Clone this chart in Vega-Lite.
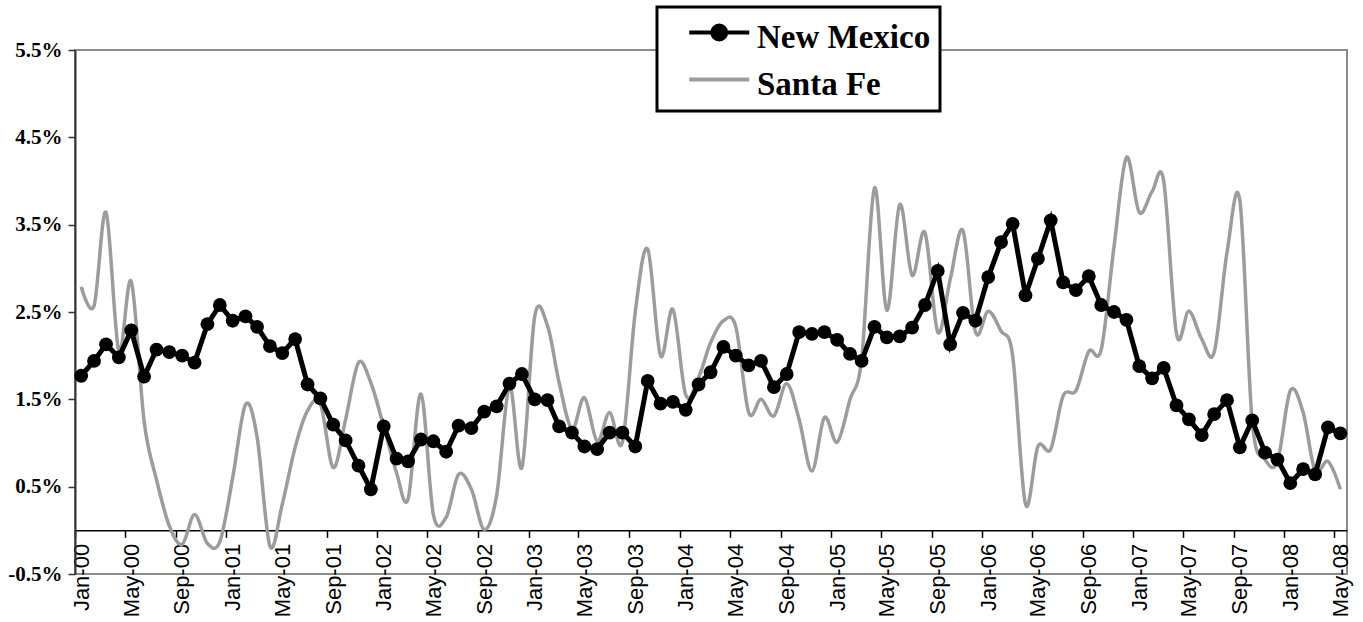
{
  "$schema": "https://vega.github.io/schema/vega-lite/v6.json",
  "width": 1272,
  "height": 524,
  "autosize": {"type": "none"},
  "padding": {"left": 75, "top": 50, "right": 16, "bottom": 48},
  "background": "white",
  "config": {"view": {"stroke": "#8c8c8c", "strokeWidth": 2}, "axis": {"grid": false}},
  "datasets": {
    "nm": [
      {"m":"2000-01-16","s":"New Mexico","v":1.77},{"m":"2000-02-16","s":"New Mexico","v":1.94},{"m":"2000-03-16","s":"New Mexico","v":2.13},{"m":"2000-04-16","s":"New Mexico","v":1.98},{"m":"2000-05-16","s":"New Mexico","v":2.29},{"m":"2000-06-16","s":"New Mexico","v":1.76},{"m":"2000-07-16","s":"New Mexico","v":2.07},{"m":"2000-08-16","s":"New Mexico","v":2.04},{"m":"2000-09-16","s":"New Mexico","v":2.00},{"m":"2000-10-16","s":"New Mexico","v":1.92},{"m":"2000-11-16","s":"New Mexico","v":2.36},{"m":"2000-12-16","s":"New Mexico","v":2.58},
      {"m":"2001-01-16","s":"New Mexico","v":2.40},{"m":"2001-02-16","s":"New Mexico","v":2.45},{"m":"2001-03-16","s":"New Mexico","v":2.33},{"m":"2001-04-16","s":"New Mexico","v":2.11},{"m":"2001-05-16","s":"New Mexico","v":2.03},{"m":"2001-06-16","s":"New Mexico","v":2.19},{"m":"2001-07-16","s":"New Mexico","v":1.67},{"m":"2001-08-16","s":"New Mexico","v":1.51},{"m":"2001-09-16","s":"New Mexico","v":1.21},{"m":"2001-10-16","s":"New Mexico","v":1.03},{"m":"2001-11-16","s":"New Mexico","v":0.74},{"m":"2001-12-16","s":"New Mexico","v":0.47},
      {"m":"2002-01-16","s":"New Mexico","v":1.19},{"m":"2002-02-16","s":"New Mexico","v":0.82},{"m":"2002-03-16","s":"New Mexico","v":0.79},{"m":"2002-04-16","s":"New Mexico","v":1.04},{"m":"2002-05-16","s":"New Mexico","v":1.02},{"m":"2002-06-16","s":"New Mexico","v":0.90},{"m":"2002-07-16","s":"New Mexico","v":1.20},{"m":"2002-08-16","s":"New Mexico","v":1.17},{"m":"2002-09-16","s":"New Mexico","v":1.36},{"m":"2002-10-16","s":"New Mexico","v":1.42},{"m":"2002-11-16","s":"New Mexico","v":1.68},{"m":"2002-12-16","s":"New Mexico","v":1.79},
      {"m":"2003-01-16","s":"New Mexico","v":1.50},{"m":"2003-02-16","s":"New Mexico","v":1.49},{"m":"2003-03-16","s":"New Mexico","v":1.19},{"m":"2003-04-16","s":"New Mexico","v":1.12},{"m":"2003-05-16","s":"New Mexico","v":0.96},{"m":"2003-06-16","s":"New Mexico","v":0.93},{"m":"2003-07-16","s":"New Mexico","v":1.12},{"m":"2003-08-16","s":"New Mexico","v":1.12},{"m":"2003-09-16","s":"New Mexico","v":0.96},{"m":"2003-10-16","s":"New Mexico","v":1.71},{"m":"2003-11-16","s":"New Mexico","v":1.45},{"m":"2003-12-16","s":"New Mexico","v":1.47},
      {"m":"2004-01-16","s":"New Mexico","v":1.38},{"m":"2004-02-16","s":"New Mexico","v":1.67},{"m":"2004-03-16","s":"New Mexico","v":1.81},{"m":"2004-04-16","s":"New Mexico","v":2.10},{"m":"2004-05-16","s":"New Mexico","v":2.00},{"m":"2004-06-16","s":"New Mexico","v":1.89},{"m":"2004-07-16","s":"New Mexico","v":1.94},{"m":"2004-08-16","s":"New Mexico","v":1.64},{"m":"2004-09-16","s":"New Mexico","v":1.79},{"m":"2004-10-16","s":"New Mexico","v":2.27},{"m":"2004-11-16","s":"New Mexico","v":2.25},{"m":"2004-12-16","s":"New Mexico","v":2.27},
      {"m":"2005-01-16","s":"New Mexico","v":2.18},{"m":"2005-02-16","s":"New Mexico","v":2.02},{"m":"2005-03-16","s":"New Mexico","v":1.94},{"m":"2005-04-16","s":"New Mexico","v":2.33},{"m":"2005-05-16","s":"New Mexico","v":2.21},{"m":"2005-06-16","s":"New Mexico","v":2.22},{"m":"2005-07-16","s":"New Mexico","v":2.32},{"m":"2005-08-16","s":"New Mexico","v":2.58},{"m":"2005-09-16","s":"New Mexico","v":2.97},{"m":"2005-10-16","s":"New Mexico","v":2.13},{"m":"2005-11-16","s":"New Mexico","v":2.49},{"m":"2005-12-16","s":"New Mexico","v":2.40},
      {"m":"2006-01-16","s":"New Mexico","v":2.90},{"m":"2006-02-16","s":"New Mexico","v":3.30},{"m":"2006-03-16","s":"New Mexico","v":3.51},{"m":"2006-04-16","s":"New Mexico","v":2.69},{"m":"2006-05-16","s":"New Mexico","v":3.11},{"m":"2006-06-16","s":"New Mexico","v":3.55},{"m":"2006-07-16","s":"New Mexico","v":2.84},{"m":"2006-08-16","s":"New Mexico","v":2.75},{"m":"2006-09-16","s":"New Mexico","v":2.91},{"m":"2006-10-16","s":"New Mexico","v":2.58},{"m":"2006-11-16","s":"New Mexico","v":2.50},{"m":"2006-12-16","s":"New Mexico","v":2.41},
      {"m":"2007-01-16","s":"New Mexico","v":1.88},{"m":"2007-02-16","s":"New Mexico","v":1.74},{"m":"2007-03-16","s":"New Mexico","v":1.86},{"m":"2007-04-16","s":"New Mexico","v":1.43},{"m":"2007-05-16","s":"New Mexico","v":1.27},{"m":"2007-06-16","s":"New Mexico","v":1.09},{"m":"2007-07-16","s":"New Mexico","v":1.33},{"m":"2007-08-16","s":"New Mexico","v":1.49},{"m":"2007-09-16","s":"New Mexico","v":0.95},{"m":"2007-10-16","s":"New Mexico","v":1.26},{"m":"2007-11-16","s":"New Mexico","v":0.89},{"m":"2007-12-16","s":"New Mexico","v":0.81},
      {"m":"2008-01-16","s":"New Mexico","v":0.54},{"m":"2008-02-16","s":"New Mexico","v":0.70},{"m":"2008-03-16","s":"New Mexico","v":0.64},{"m":"2008-04-16","s":"New Mexico","v":1.18},{"m":"2008-05-16","s":"New Mexico","v":1.11}
    ],
    "sf": [
      {"m":"2000-01-16","s":"Santa Fe","v":2.79},{"m":"2000-02-16","s":"Santa Fe","v":2.57},{"m":"2000-03-16","s":"Santa Fe","v":3.64},{"m":"2000-04-16","s":"Santa Fe","v":2.05},{"m":"2000-05-16","s":"Santa Fe","v":2.85},{"m":"2000-06-16","s":"Santa Fe","v":1.25},{"m":"2000-07-16","s":"Santa Fe","v":0.58},{"m":"2000-08-16","s":"Santa Fe","v":0.05},{"m":"2000-09-16","s":"Santa Fe","v":-0.16},{"m":"2000-10-16","s":"Santa Fe","v":0.18},{"m":"2000-11-16","s":"Santa Fe","v":-0.15},{"m":"2000-12-16","s":"Santa Fe","v":-0.13},
      {"m":"2001-01-16","s":"Santa Fe","v":0.60},{"m":"2001-02-16","s":"Santa Fe","v":1.44},{"m":"2001-03-16","s":"Santa Fe","v":1.07},{"m":"2001-04-16","s":"Santa Fe","v":-0.18},{"m":"2001-05-16","s":"Santa Fe","v":0.30},{"m":"2001-06-16","s":"Santa Fe","v":0.95},{"m":"2001-07-16","s":"Santa Fe","v":1.37},{"m":"2001-08-16","s":"Santa Fe","v":1.45},{"m":"2001-09-16","s":"Santa Fe","v":0.72},{"m":"2001-10-16","s":"Santa Fe","v":1.27},{"m":"2001-11-16","s":"Santa Fe","v":1.92},{"m":"2001-12-16","s":"Santa Fe","v":1.69},
      {"m":"2002-01-16","s":"Santa Fe","v":1.19},{"m":"2002-02-16","s":"Santa Fe","v":0.66},{"m":"2002-03-16","s":"Santa Fe","v":0.36},{"m":"2002-04-16","s":"Santa Fe","v":1.56},{"m":"2002-05-16","s":"Santa Fe","v":0.18},{"m":"2002-06-16","s":"Santa Fe","v":0.15},{"m":"2002-07-16","s":"Santa Fe","v":0.64},{"m":"2002-08-16","s":"Santa Fe","v":0.47},{"m":"2002-09-16","s":"Santa Fe","v":0.01},{"m":"2002-10-16","s":"Santa Fe","v":0.40},{"m":"2002-11-16","s":"Santa Fe","v":1.65},{"m":"2002-12-16","s":"Santa Fe","v":0.72},
      {"m":"2003-01-16","s":"Santa Fe","v":2.45},{"m":"2003-02-16","s":"Santa Fe","v":2.34},{"m":"2003-03-16","s":"Santa Fe","v":1.69},{"m":"2003-04-16","s":"Santa Fe","v":1.16},{"m":"2003-05-16","s":"Santa Fe","v":1.52},{"m":"2003-06-16","s":"Santa Fe","v":1.02},{"m":"2003-07-16","s":"Santa Fe","v":1.35},{"m":"2003-08-16","s":"Santa Fe","v":1.01},{"m":"2003-09-16","s":"Santa Fe","v":2.50},{"m":"2003-10-16","s":"Santa Fe","v":3.22},{"m":"2003-11-16","s":"Santa Fe","v":2.00},{"m":"2003-12-16","s":"Santa Fe","v":2.53},
      {"m":"2004-01-16","s":"Santa Fe","v":1.55},{"m":"2004-02-16","s":"Santa Fe","v":1.75},{"m":"2004-03-16","s":"Santa Fe","v":2.15},{"m":"2004-04-16","s":"Santa Fe","v":2.40},{"m":"2004-05-16","s":"Santa Fe","v":2.33},{"m":"2004-06-16","s":"Santa Fe","v":1.35},{"m":"2004-07-16","s":"Santa Fe","v":1.50},{"m":"2004-08-16","s":"Santa Fe","v":1.31},{"m":"2004-09-16","s":"Santa Fe","v":1.68},{"m":"2004-10-16","s":"Santa Fe","v":1.27},{"m":"2004-11-16","s":"Santa Fe","v":0.68},{"m":"2004-12-16","s":"Santa Fe","v":1.29},
      {"m":"2005-01-16","s":"Santa Fe","v":1.01},{"m":"2005-02-16","s":"Santa Fe","v":1.50},{"m":"2005-03-16","s":"Santa Fe","v":1.96},{"m":"2005-04-16","s":"Santa Fe","v":3.92},{"m":"2005-05-16","s":"Santa Fe","v":2.52},{"m":"2005-06-16","s":"Santa Fe","v":3.73},{"m":"2005-07-16","s":"Santa Fe","v":2.92},{"m":"2005-08-16","s":"Santa Fe","v":3.41},{"m":"2005-09-16","s":"Santa Fe","v":2.27},{"m":"2005-10-16","s":"Santa Fe","v":2.87},{"m":"2005-11-16","s":"Santa Fe","v":3.43},{"m":"2005-12-16","s":"Santa Fe","v":2.27},
      {"m":"2006-01-16","s":"Santa Fe","v":2.51},{"m":"2006-02-16","s":"Santa Fe","v":2.28},{"m":"2006-03-16","s":"Santa Fe","v":2.00},{"m":"2006-04-16","s":"Santa Fe","v":0.30},{"m":"2006-05-16","s":"Santa Fe","v":0.96},{"m":"2006-06-16","s":"Santa Fe","v":0.93},{"m":"2006-07-16","s":"Santa Fe","v":1.54},{"m":"2006-08-16","s":"Santa Fe","v":1.60},{"m":"2006-09-16","s":"Santa Fe","v":2.05},{"m":"2006-10-16","s":"Santa Fe","v":2.07},{"m":"2006-11-16","s":"Santa Fe","v":3.25},{"m":"2006-12-16","s":"Santa Fe","v":4.27},
      {"m":"2007-01-16","s":"Santa Fe","v":3.64},{"m":"2007-02-16","s":"Santa Fe","v":3.88},{"m":"2007-03-16","s":"Santa Fe","v":4.00},{"m":"2007-04-16","s":"Santa Fe","v":2.25},{"m":"2007-05-16","s":"Santa Fe","v":2.51},{"m":"2007-06-16","s":"Santa Fe","v":2.19},{"m":"2007-07-16","s":"Santa Fe","v":2.04},{"m":"2007-08-16","s":"Santa Fe","v":3.18},{"m":"2007-09-16","s":"Santa Fe","v":3.78},{"m":"2007-10-16","s":"Santa Fe","v":1.24},{"m":"2007-11-16","s":"Santa Fe","v":0.81},{"m":"2007-12-16","s":"Santa Fe","v":0.79},
      {"m":"2008-01-16","s":"Santa Fe","v":1.60},{"m":"2008-02-16","s":"Santa Fe","v":1.35},{"m":"2008-03-16","s":"Santa Fe","v":0.68},{"m":"2008-04-16","s":"Santa Fe","v":0.79},{"m":"2008-05-16","s":"Santa Fe","v":0.47}
    ]
  },
  "encoding": {
    "x": {
      "field": "m", "type": "temporal",
      "scale": {"type": "utc", "domain": [{"year": 2000, "month": 1, "date": 1, "utc": true}, {"year": 2008, "month": 6, "date": 1, "utc": true}]},
      "axis": {
        "title": null, "tickCount": {"interval": "month", "step": 4}, "format": "%b-%y",
        "labelAngle": -90, "labelFont": "Liberation Sans", "labelFontSize": 22, "labelColor": "black",
        "labelFlush": false, "labelOverlap": false, "labelPadding": 6, "labelOffset": 6,
        "tickSize": 7, "tickColor": "black", "tickWidth": 1.5, "domainColor": "black", "domainWidth": 1.5,
        "offset": -43.67
      }
    },
    "y": {
      "field": "v", "type": "quantitative",
      "scale": {"domain": [-0.5, 5.5], "nice": false, "zero": false},
      "axis": {
        "title": null, "values": [-0.5, 0.5, 1.5, 2.5, 3.5, 4.5, 5.5],
        "labelExpr": "(datum.value < 0 ? '-' : '') + format(abs(datum.value), '.1f') + '%'",
        "labelFont": "Liberation Serif", "labelFontWeight": "bold", "labelFontSize": 21, "labelColor": "black",
        "labelPadding": 6, "tickSize": 7, "tickColor": "#333333", "tickWidth": 1.5,
        "domainColor": "#333333", "domainWidth": 2
      }
    },
    "color": {
      "field": "s", "type": "nominal",
      "scale": {"domain": ["New Mexico", "Santa Fe"], "range": ["black", "#9c9c9c"]},
      "legend": {
        "title": null, "orient": "none", "legendX": 582, "legendY": -43, "direction": "vertical",
        "strokeColor": "black", "fillColor": "white", "padding": 9, "rowPadding": 8,
        "labelFont": "Liberation Serif", "labelFontWeight": "bold", "labelFontSize": 33, "labelColor": "black",
        "labelLimit": 500, "symbolSize": 225, "labelOffset": 58,
        "encode": {
          "legend": {"update": {"strokeWidth": {"value": 3}}},
          "labels": {"update": {"dy": {"value": 5}}},
          "symbols": {
            "update": {
              "shape": {"signal": "datum.value === 'New Mexico' ? 'M0.9,0H8.9M3.97,0A0.93,0.93,0,1,1,5.83,0A0.93,0.93,0,1,1,3.97,0Z' : 'M0.9,0H8.9'"},
              "fill": {"signal": "datum.value === 'New Mexico' ? 'black' : 'transparent'"},
              "stroke": {"signal": "datum.value === 'New Mexico' ? 'black' : '#9c9c9c'"},
              "strokeWidth": {"value": 4},
              "opacity": {"value": 1},
              "dy": {"value": 5}
            }
          }
        }
      }
    }
  },
  "layer": [
    {"data": {"name": "sf"}, "mark": {"type": "line", "interpolate": "cardinal", "strokeWidth": 3.5}},
    {"data": {"name": "nm"}, "mark": {"type": "line", "strokeWidth": 5}},
    {"data": {"name": "nm"}, "mark": {"type": "point", "filled": true, "size": 190, "opacity": 1}}
  ]
}
